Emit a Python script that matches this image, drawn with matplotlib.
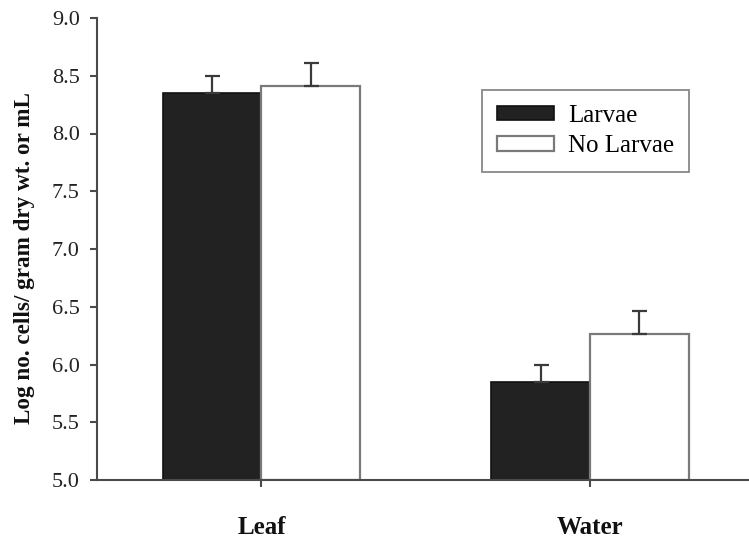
"""
Log cell counts on leaf and in water, with and without larvae
"""
import numpy as np
import matplotlib
matplotlib.use("Agg")
import matplotlib.pyplot as plt

plt.rcParams['font.family'] = ['Liberation Serif', 'DejaVu Serif']

categories = ["Leaf", "Water"]
series = ["Larvae", "No Larvae"]
larvae = [8.35, 5.85]
larvae_err = [0.15, 0.15]
no_larvae = [8.41, 6.26]
no_larvae_err = [0.20, 0.20]
yticks = [5.0, 5.5, 6.0, 6.5, 7.0, 7.5, 8.0, 8.5, 9.0]

W, H = 749, 546
fig = plt.figure(figsize=(W / 100.0, H / 100.0), dpi=100)
# axes right edge runs a little past the figure edge, as in the original
ax = fig.add_axes([97 / W, 1 - 480 / H, (754.5 - 97) / W, (480 - 18) / H])

x = np.arange(len(categories))
bw = 0.3
axis_col = "#4a4a4a"
err_kw = dict(ecolor="#3a3a3a", elinewidth=1.6, capsize=5.4, capthick=1.6)

ax.bar(x - bw / 2, np.array(larvae) - 5.0, bw, bottom=5.0, color="#222222",
       edgecolor="#111111", linewidth=1.2, label=series[0],
       yerr=[np.zeros(len(larvae)), larvae_err], error_kw=err_kw, zorder=2)
ax.bar(x + bw / 2, np.array(no_larvae) - 5.0, bw, bottom=5.0, color="white",
       edgecolor="#7a7a7a", linewidth=1.6, label=series[1],
       yerr=[np.zeros(len(no_larvae)), no_larvae_err], error_kw=err_kw, zorder=2)

ax.set_xlim(-0.5, 1.5)
ax.set_ylim(5.0, 9.0)
ax.set_yticks(yticks)
ax.set_yticklabels(["%.1f" % v for v in yticks])
ax.set_xticks(x)
ax.set_xticklabels(categories, fontweight="bold", fontsize=18)

for side in ("top", "right"):
    ax.spines[side].set_visible(False)
for side in ("left", "bottom"):
    ax.spines[side].set_color(axis_col)
    ax.spines[side].set_linewidth(1.5)

ax.tick_params(axis="y", direction="out", length=5, width=1.5,
               color=axis_col, labelsize=16, pad=7.5, labelcolor="#222222")
ax.tick_params(axis="x", direction="out", length=5, width=1.5,
               color=axis_col, pad=21, labelcolor="#111111")

fig.text(25 / W, 1 - 258 / H, "Log no. cells/ gram dry wt. or mL",
         rotation=90, ha="center", va="center", fontsize=16.7,
         fontweight="bold", color="#111111")

leg = ax.legend(loc="upper left", bbox_to_anchor=(481.7 / W, 1 - 89.5 / H),
                bbox_transform=fig.transFigure, fontsize=18, frameon=True,
                fancybox=False, borderpad=0.6, handlelength=2.3,
                handleheight=0.5, handletextpad=0.55, labelspacing=0.35,
                borderaxespad=0)
leg.get_frame().set_edgecolor("#6a6a6a")
leg.get_frame().set_linewidth(1.3)

fig.savefig("out.png", dpi=100)
